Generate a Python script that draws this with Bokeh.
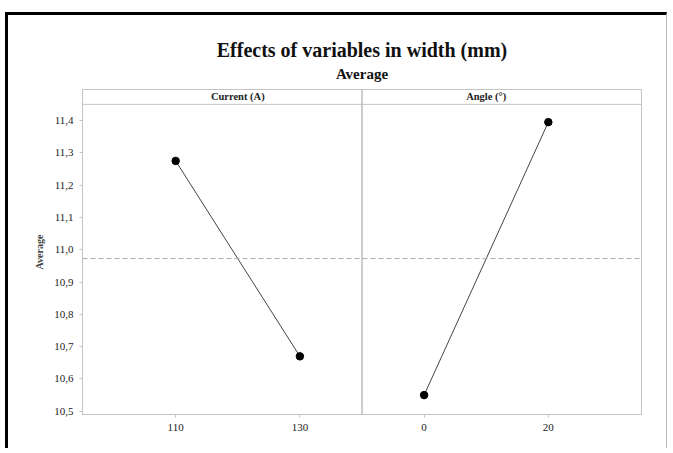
from bokeh.plotting import figure
from bokeh.models import (FactorRange, Range1d, Span, Label, Title, FixedTicker,
                          CustomJSTickFormatter, ColumnDataSource)
from bokeh.embed import file_html
from bokeh.resources import INLINE

# ---- data ----
title_text = "Effects of variables in width (mm)"
subtitle_text = "Average"
panel_titles = ["Current (A)", "Angle (°)"]
current_levels = ["110", "130"]
current_means = [11.275, 10.670]
angle_levels = ["0", "20"]
angle_means = [10.550, 11.395]
overall_mean = (sum(current_means) + sum(angle_means)) / 4
y_ticks = [10.5, 10.6, 10.7, 10.8, 10.9, 11.0, 11.1, 11.2, 11.3, 11.4]

SERIF = "Liberation Serif"
NARROW = "Liberation Sans Narrow"
GRID = "#c4c4c4"

factors = current_levels + angle_levels
x_range = FactorRange(factors=factors, factor_padding=1.0,
                      range_padding=1.0, range_padding_units="absolute")
y_range = Range1d(10.49, 11.496)

p = figure(width=662, height=436, x_range=x_range, y_range=y_range,
           output_backend="svg", toolbar_location=None,
           min_border_left=74, min_border_right=29,
           min_border_top=74, min_border_bottom=37)
p.margin = (12, 0, 0, 5)
p.styles = {"border-top": "3px solid black", "border-left": "3px solid black",
            "border-right": "1px solid #bbbbbb"}

p.xgrid.visible = False
p.ygrid.visible = False
p.outline_line_color = GRID
p.outline_line_width = 1
p.background_fill_color = "white"
p.border_fill_color = "white"

# titles (first added is nearest the frame)
p.add_layout(Title(text=subtitle_text, text_font=SERIF, text_font_style="bold",
                   text_font_size="15px", align="center", standoff=16,
                   text_line_height=1.0, text_color="#111111"), "above")
p.add_layout(Title(text=title_text, text_font=SERIF,
                   text_font_style="bold", text_font_size="20px", align="center",
                   standoff=-11, text_line_height=1.0, text_color="#111111"), "above")

# axes
for ax in (p.xaxis[0], p.yaxis[0]):
    ax.axis_line_color = GRID
    ax.major_tick_line_color = GRID
    ax.minor_tick_line_color = None
    ax.major_tick_in = 0
    ax.major_tick_out = 3
    ax.major_label_text_font = NARROW
    ax.major_label_text_font_size = "11px"
    ax.major_label_text_color = "#222222"

p.yaxis.ticker = FixedTicker(ticks=y_ticks)
p.yaxis.formatter = CustomJSTickFormatter(code="return tick.toFixed(1).replace('.', ',');")
p.yaxis.axis_label = "Average"
p.yaxis.axis_label_text_font = SERIF
p.yaxis.axis_label_text_font_style = "bold"
p.yaxis.axis_label_text_font_size = "10px"
p.yaxis.axis_label_standoff = 6
p.yaxis.major_label_standoff = 6
p.xaxis.major_label_standoff = 6

# panel divider, strip line and mean line
divider = (len(current_levels) * 2 - 1) + 0.5  # between the two panels (synthetic units)
x_end = len(factors) * 2 - 0.5
p.add_layout(Span(location=divider, dimension="height", line_color="#9a9a9a", line_width=1))
p.add_layout(Span(location=11.45, dimension="width", line_color=GRID, line_width=1))
p.add_layout(Span(location=overall_mean, dimension="width", line_color="#aaaaaa",
                  line_width=1, line_dash="5 3"))

# strip labels
left_center = (-0.5 + divider) / 2
right_center = (divider + x_end) / 2
for xc, txt in zip([left_center, right_center], panel_titles):
    p.add_layout(Label(x=xc, y=11.473, text=txt, text_align="center",
                       text_baseline="middle", text_font=SERIF, text_font_style="bold",
                       text_font_size="10.5px", text_color="#222222"))

# main effects lines and points
for lv, mv in ((current_levels, current_means), (angle_levels, angle_means)):
    src = ColumnDataSource(dict(x=lv, y=mv))
    p.line("x", "y", source=src, line_color="#444444", line_width=1)
    p.scatter("x", "y", source=src, size=7.5, color="black")

open("out.html", "w").write(file_html(p, INLINE))
